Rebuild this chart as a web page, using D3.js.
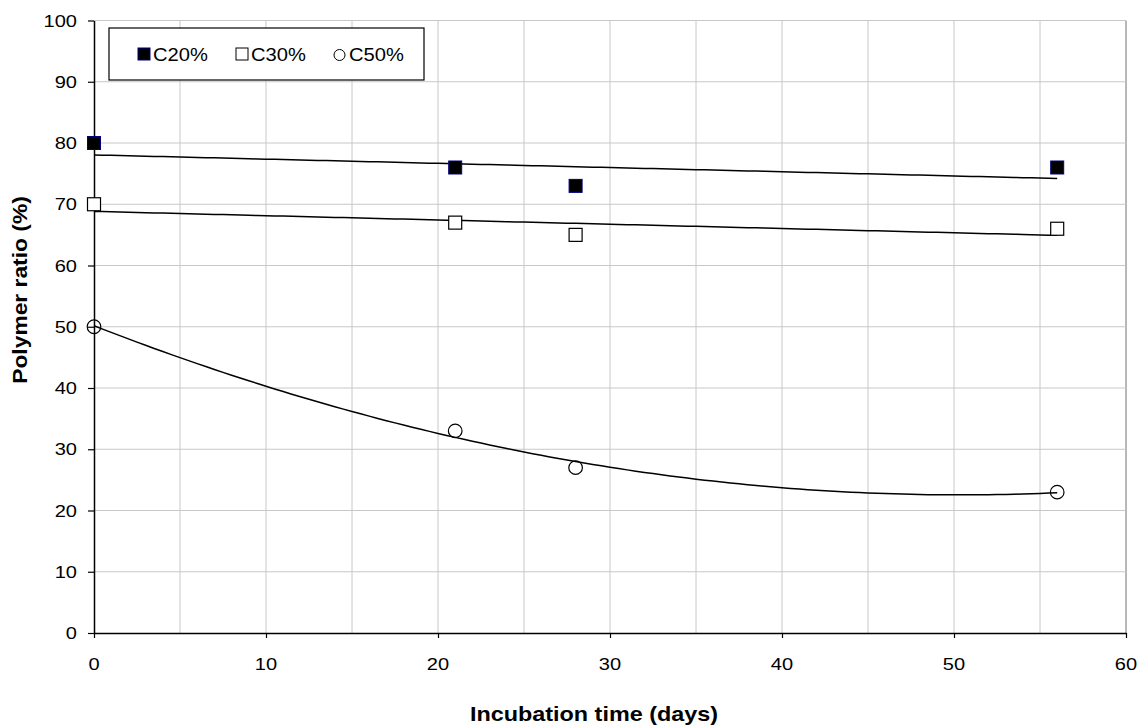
<!DOCTYPE html>
<html><head><meta charset="utf-8">
<script src="https://cdn.jsdelivr.net/npm/d3@7"></script>
<style>body{margin:0;background:#fff}svg{display:block}text{font-family:"Liberation Sans",Arial,sans-serif;fill:#000}</style>
</head><body>
<svg id="c" width="1142" height="727"></svg>
<script>
const days = [0, 21, 28, 56];
const c20 = [80, 76, 73, 76];
const c30 = [70, 67, 65, 66];
const c50 = [50, 33, 27, 23];
const xTicks = [0, 10, 20, 30, 40, 50, 60];
const yTicks = [0, 10, 20, 30, 40, 50, 60, 70, 80, 90, 100];
const seriesNames = ["C20%", "C30%", "C50%"];

const svg = d3.select("#c");
const L = 94, R = 1126, T = 20.5, B = 633;
const x = d3.scaleLinear().domain([0, 60]).range([L, R]);
const y = d3.scaleLinear().domain([0, 100]).range([B, T]);
const SX = 1.18; // horizontal widening of the reference's glyphs

// grid
const g = svg.append("g");
g.selectAll(".vg").data(d3.range(5, 61, 5)).enter().append("line")
  .attr("x1", d => x(d)).attr("x2", d => x(d)).attr("y1", T).attr("y2", B)
  .attr("stroke", d => d === 60 ? "#a0a0a0" : "#c8c8c8").attr("stroke-width", d => d === 60 ? 1.5 : 1);
g.selectAll(".hg").data(d3.range(10, 101, 10)).enter().append("line")
  .attr("x1", L).attr("x2", R).attr("y1", d => y(d)).attr("y2", d => y(d))
  .attr("stroke", "#c8c8c8").attr("stroke-width", 1);

// axes (ticks only, labels drawn below)
const ya = svg.append("g").attr("transform", `translate(${L},0)`)
  .call(d3.axisLeft(y).tickValues(yTicks).tickSize(6).tickSizeOuter(0).tickFormat(""));
const xa = svg.append("g").attr("transform", `translate(0,${B})`)
  .call(d3.axisBottom(x).tickValues(xTicks).tickSize(5).tickSizeOuter(0).tickFormat(""));
[ya, xa].forEach(a => {
  a.select(".domain").attr("stroke", "#000").attr("stroke-width", 1.5);
  a.selectAll(".tick line").attr("stroke", "#000").attr("stroke-width", 1.2);
  a.selectAll(".tick text").remove();
});
svg.append("g").selectAll("text").data(yTicks).enter().append("text")
  .attr("transform", d => `translate(77,${y(d) + 6}) scale(${SX},1)`)
  .attr("text-anchor", "end").attr("font-size", 17).text(d => d);
svg.append("g").selectAll("text").data(xTicks).enter().append("text")
  .attr("transform", d => `translate(${x(d)},670) scale(${SX},1)`)
  .attr("text-anchor", "middle").attr("font-size", 17).text(d => d);

// trendlines
function linFit(xs, ys) {
  const n = xs.length, mx = d3.mean(xs), my = d3.mean(ys);
  let sxy = 0, sxx = 0;
  for (let i = 0; i < n; i++) { sxy += (xs[i]-mx)*(ys[i]-my); sxx += (xs[i]-mx)**2; }
  const b = sxy / sxx, a = my - b*mx;
  return t => a + b*t;
}
function quadFit(xs, ys) {
  const S = k => d3.sum(xs, v => v**k), Sy = k => d3.sum(xs.map((v,i)=>v**k*ys[i]));
  const M = [[S(0),S(1),S(2)],[S(1),S(2),S(3)],[S(2),S(3),S(4)]], V=[Sy(0),Sy(1),Sy(2)];
  for (let i=0;i<3;i++){ for(let j=i+1;j<3;j++){ const f=M[j][i]/M[i][i]; for(let k=i;k<3;k++) M[j][k]-=f*M[i][k]; V[j]-=f*V[i]; } }
  const s=[0,0,0]; for(let i=2;i>=0;i--){ let t=V[i]; for(let k=i+1;k<3;k++) t-=M[i][k]*s[k]; s[i]=t/M[i][i]; }
  return t => s[0] + s[1]*t + s[2]*t*t;
}
const line = d3.line().x(d => x(d[0])).y(d => y(d[1]));
const tx = d3.range(0, 56.01, 0.5);
[linFit(days, c20), linFit(days, c30), quadFit(days, c50)].forEach(f => {
  svg.append("path").attr("d", line(tx.map(t => [t, f(t)])))
    .attr("fill", "none").attr("stroke", "#000").attr("stroke-width", 1.5);
});

// markers
const S = 13;
svg.selectAll(".m20").data(days.map((d,i)=>[d,c20[i]])).enter().append("rect")
  .attr("x", d => x(d[0]) - S/2).attr("y", d => y(d[1]) - S/2).attr("width", S).attr("height", S)
  .attr("fill", "#000").attr("stroke", "#000080").attr("stroke-width", 1);
svg.selectAll(".m30").data(days.map((d,i)=>[d,c30[i]])).enter().append("rect")
  .attr("x", d => x(d[0]) - S/2).attr("y", d => y(d[1]) - S/2).attr("width", S).attr("height", S)
  .attr("fill", "#fff").attr("stroke", "#000").attr("stroke-width", 1.2);
svg.selectAll(".m50").data(days.map((d,i)=>[d,c50[i]])).enter().append("circle")
  .attr("cx", d => x(d[0])).attr("cy", d => y(d[1])).attr("r", 6.8)
  .attr("fill", "none").attr("stroke", "#000").attr("stroke-width", 1.2);

// legend
const lg = svg.append("g");
lg.append("rect").attr("x", 109).attr("y", 28).attr("width", 315).attr("height", 52)
  .attr("fill", "#fff").attr("stroke", "#000").attr("stroke-width", 1.2);
const lx = [138, 236, 334];
lg.append("rect").attr("x", lx[0]).attr("y", 48).attr("width", 12).attr("height", 12)
  .attr("fill", "#000").attr("stroke", "#000080");
lg.append("rect").attr("x", lx[1]).attr("y", 48).attr("width", 12).attr("height", 12)
  .attr("fill", "#fff").attr("stroke", "#000");
lg.append("circle").attr("cx", lx[2] + 5.5).attr("cy", 55).attr("r", 5.5)
  .attr("fill", "#fff").attr("stroke", "#000");
seriesNames.forEach((n, i) => {
  lg.append("text").attr("transform", `translate(${lx[i] + 15},60.5) scale(1.12,1)`)
    .attr("font-size", 18).text(n);
});

// axis titles
svg.append("text").attr("transform", `translate(594,721) scale(1.2,1)`).attr("text-anchor", "middle")
  .attr("font-size", 19.5).attr("font-weight", "bold").text("Incubation time (days)");
svg.append("text").attr("transform", "translate(27,290) rotate(-90) scale(1.17,1)").attr("text-anchor", "middle")
  .attr("font-size", 19.5).attr("font-weight", "bold").text("Polymer ratio (%)");
</script>
</body></html>
